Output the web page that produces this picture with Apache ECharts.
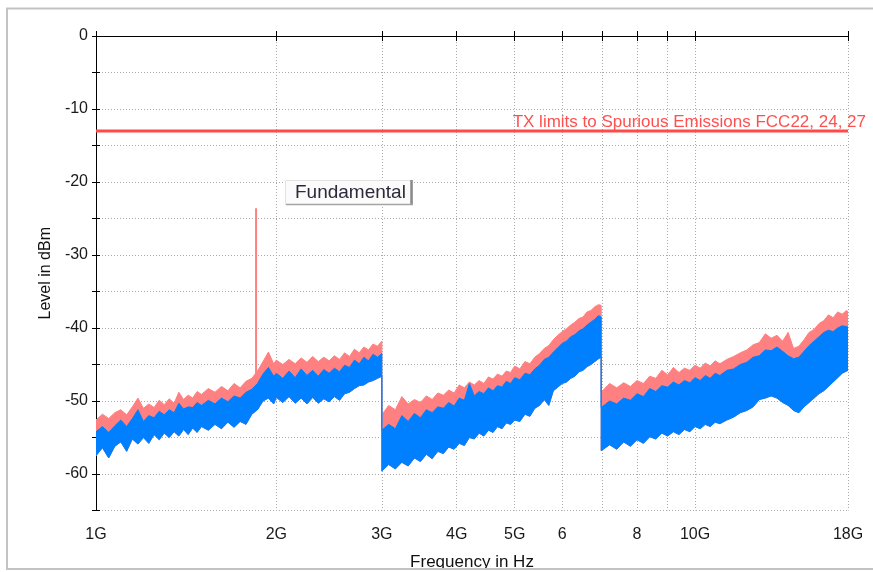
<!DOCTYPE html>
<html><head><meta charset="utf-8">
<script src="https://cdn.jsdelivr.net/npm/echarts@6/dist/echarts.min.js"></script>
<style>html,body{margin:0;padding:0;background:#fff}#c{width:873px;height:572px}</style>
</head><body><div id="c"></div>
<script>
// ---- data (frequency in GHz, level in dBm) ----
const seg1Freq = [1.000,1.025,1.050,1.075,1.100,1.125,1.150,1.175,1.200,1.225,1.250,1.275,1.300,1.325,1.350,1.375,1.400,1.425,1.450,1.475,1.50,1.54,1.58,1.62,1.66,1.70,1.74,1.78,1.82,1.86,1.90,1.94,1.98,2.00,2.05,2.10,2.15,2.20,2.25,2.30,2.35,2.40,2.45,2.50,2.55,2.60,2.65,2.70,2.75,2.80,2.85,2.90,2.95,3.00];
const seg1Peak = [-52.6,-51.8,-52.4,-51.6,-51.2,-51.9,-50.8,-49.6,-51.0,-50.4,-50.9,-49.9,-50.5,-49.7,-50.3,-48.8,-49.8,-49.2,-49.6,-48.7,-49.1,-48.3,-48.8,-48.0,-48.6,-47.6,-48.2,-47.3,-46.9,-45.9,-44.6,-43.3,-44.9,-44.4,-45.0,-44.3,-44.9,-44.1,-44.7,-43.9,-44.6,-44.0,-44.5,-43.8,-44.3,-43.4,-43.9,-42.9,-43.4,-42.6,-43.0,-42.2,-42.5,-41.8];
const seg1AvgHigh = [-54.2,-53.5,-54.3,-53.4,-52.6,-53.5,-52.4,-51.2,-52.8,-52.0,-52.3,-51.4,-51.9,-51.2,-51.6,-50.3,-51.1,-50.8,-50.9,-50.2,-50.6,-49.9,-50.4,-49.6,-50.1,-49.3,-49.6,-48.8,-48.4,-47.6,-46.3,-45.4,-46.6,-46.2,-46.9,-45.9,-46.8,-45.6,-46.5,-45.8,-46.6,-45.7,-46.2,-45.5,-46.0,-45.1,-45.4,-44.4,-44.9,-44.0,-44.5,-43.6,-44.0,-43.5];
const seg1AvgLow = [-57.5,-56.4,-57.8,-56.2,-55.6,-56.9,-55.2,-55.9,-55.0,-55.8,-54.6,-55.3,-54.4,-55.0,-54.2,-54.8,-53.9,-54.6,-53.7,-54.3,-53.5,-54.0,-53.2,-53.8,-52.9,-53.6,-52.8,-53.2,-51.8,-51.2,-50.0,-49.6,-50.4,-49.5,-50.2,-49.4,-50.3,-49.6,-50.4,-49.5,-50.3,-49.7,-50.1,-49.4,-49.9,-49.0,-48.8,-48.3,-47.9,-47.8,-47.4,-47.2,-46.9,-46.6];

const seg2Freq = [3.00,3.08,3.16,3.24,3.32,3.40,3.48,3.56,3.64,3.72,3.80,3.88,3.96,4.04,4.12,4.20,4.28,4.36,4.44,4.52,4.60,4.68,4.76,4.84,4.92,5.0,5.1,5.2,5.3,5.4,5.5,5.6,5.7,5.8,5.9,6.0,6.1,6.2,6.3,6.4,6.5,6.6,6.7,6.8,6.9,6.97];
const seg2Peak = [-51.9,-50.6,-51.2,-49.4,-50.4,-49.8,-50.2,-49.3,-49.8,-48.9,-49.2,-48.5,-48.9,-47.8,-48.2,-47.4,-47.8,-47.2,-47.6,-46.7,-47.0,-46.3,-46.6,-45.9,-46.1,-45.2,-45.6,-44.6,-44.9,-44.0,-43.5,-42.8,-42.4,-41.6,-41.0,-40.5,-40.1,-39.6,-39.2,-38.7,-38.5,-37.8,-37.6,-37.1,-36.8,-36.9];
const seg2AvgHigh = [-54.0,-53.2,-53.8,-52.0,-52.8,-51.7,-52.3,-51.2,-51.6,-50.8,-51.0,-50.2,-50.7,-49.6,-49.9,-47.6,-49.3,-48.7,-49.0,-48.2,-48.6,-47.9,-48.1,-47.3,-47.6,-46.8,-47.1,-46.2,-46.4,-45.6,-45.1,-44.3,-44.0,-43.3,-42.7,-42.1,-41.8,-41.2,-40.9,-40.4,-40.1,-39.6,-39.2,-38.8,-38.3,-38.5];
const seg2AvgLow = [-59.6,-58.7,-59.3,-58.4,-58.9,-57.8,-58.3,-57.3,-57.9,-56.9,-57.2,-56.3,-56.6,-55.8,-56.1,-55.0,-55.2,-54.4,-54.8,-54.0,-54.3,-53.5,-53.8,-53.0,-53.2,-52.6,-52.8,-51.8,-52.1,-51.0,-50.6,-49.8,-50.6,-48.6,-48.1,-47.6,-47.4,-46.9,-46.6,-46.0,-45.8,-45.3,-45.0,-44.6,-44.2,-44.0];

const seg3Freq = [6.97,7.2,7.4,7.6,7.8,8.0,8.2,8.4,8.6,8.8,9.0,9.2,9.4,9.6,9.8,10.0,10.2,10.4,10.6,10.8,11.0,11.3,11.6,11.9,12.2,12.5,12.8,13.1,13.4,13.7,14.0,14.3,14.6,14.9,15.2,15.5,15.8,16.1,16.4,16.7,17.0,17.3,17.6,17.9,18.0];
const seg3Peak = [-48.8,-47.6,-48.2,-47.5,-48.0,-47.2,-47.6,-46.6,-46.9,-45.8,-46.4,-45.4,-46.1,-45.5,-45.8,-45.1,-45.5,-44.8,-45.2,-44.5,-44.9,-44.3,-43.9,-43.4,-43.0,-42.3,-42.0,-40.8,-41.4,-41.0,-41.8,-40.6,-42.8,-42.5,-41.6,-40.6,-40.2,-39.4,-39.0,-38.2,-38.6,-37.8,-38.1,-37.6,-37.8];
const seg3AvgHigh = [-50.9,-50.0,-50.4,-49.6,-49.9,-49.0,-49.4,-48.3,-48.7,-47.9,-48.1,-47.4,-47.8,-47.2,-47.5,-46.8,-47.2,-46.5,-46.9,-46.2,-46.5,-45.8,-45.6,-45.0,-44.7,-44.0,-43.8,-43.0,-43.1,-42.6,-43.2,-43.8,-44.2,-44.0,-43.2,-42.4,-41.8,-41.2,-40.6,-40.3,-40.5,-40.0,-39.7,-39.8,-39.9];
const seg3AvgLow = [-56.8,-56.0,-56.6,-55.6,-56.2,-55.3,-55.8,-54.9,-55.2,-54.4,-54.8,-54.2,-54.6,-53.9,-54.2,-53.5,-53.8,-53.2,-53.5,-52.9,-53.1,-52.6,-52.2,-51.6,-51.3,-50.8,-49.8,-49.6,-49.3,-49.6,-50.2,-50.6,-51.3,-51.6,-50.8,-50.2,-49.6,-49.0,-48.6,-48.0,-47.4,-46.8,-46.2,-45.9,-45.8];

const fundamentalFreq = [1.85, 1.85];
const fundamentalLevel = [-47.0, -23.6];
const limitFreq = [1, 18];
const limitLevel = [-13, -13];
const limitText = 'TX limits to Spurious Emissions FCC22, 24, 27';
const markerText = 'Fundamental';

const tickFreqs = [1,2,3,4,5,6,7,8,9,10,18];
const labelFreqs = [1,2,3,4,5,6,8,10,18];
const labelTexts = ['1G','2G','3G','4G','5G','6','8','10G','18G'];
const yMin = -65, yMax = 0, yStep = 5;

// ---- build ----
const FONT = 'Liberation Sans, Arial, sans-serif';
const allFreq = seg1Freq.concat(seg2Freq, seg3Freq);
const allPeak = seg1Peak.concat(seg2Peak, seg3Peak);
const allHigh = seg1AvgHigh.concat(seg2AvgHigh, seg3AvgHigh);
const allLow = seg1AvgLow.concat(seg2AvgLow, seg3AvgLow);
const lg = f => Math.log10(f);

function bandSeries(name, freqs, top, bottom, color, z) {
  const data = freqs.map((f, i) => [lg(f), top[i], bottom[i]]);
  return {
    name, type: 'custom', z, silent: true, clip: true,
    xAxisIndex: 0, yAxisIndex: 0,
    data, encode: { x: 0, y: [1, 2] },
    renderItem(params, api) {
      if (params.dataIndex !== 0) return null;
      const pts = [];
      for (let i = 0; i < data.length; i++) pts.push(api.coord([data[i][0], data[i][1]]));
      for (let i = data.length - 1; i >= 0; i--) pts.push(api.coord([data[i][0], data[i][2]]));
      return { type: 'polygon', shape: { points: pts }, style: { fill: color, stroke: color, lineWidth: 1 } };
    }
  };
}

const labelFormatter = v => {
  const i = labelFreqs.findIndex(f => Math.abs(lg(f) - v) < 1e-6);
  return i >= 0 ? labelTexts[i] : '';
};

const xBase = { type: 'value', min: 0, max: lg(18), position: 'bottom' };
const yBase = { type: 'value', min: yMin, max: yMax, interval: yStep, position: 'left' };

const option = {
  animation: false,
  backgroundColor: '#ffffff',
  grid: { left: 96, right: 25, top: 36, bottom: 61.5, containLabel: false, outerBoundsMode: 'none' },
  xAxis: [
    Object.assign({}, xBase, {
      name: 'Frequency in Hz', nameLocation: 'middle', nameGap: 43,
      nameTextStyle: { fontSize: 17, color: '#111', fontFamily: FONT },
      axisLine: { show: true, lineStyle: { color: '#000', width: 1 } },
      axisTick: { show: true, length: 5, customValues: tickFreqs.map(lg), lineStyle: { color: '#000' } },
      axisLabel: { show: true, customValues: labelFreqs.map(lg), formatter: labelFormatter, margin: 16,
        fontSize: 16, color: '#1a1a1a', fontFamily: FONT, hideOverlap: false },
      splitLine: { show: true, lineStyle: { color: '#aaaaaa', type: [1, 2], width: 1 } }
    }),
    Object.assign({}, xBase, {
      axisLine: { show: false },
      axisTick: { show: true, inside: true, length: 5, customValues: tickFreqs.map(lg), lineStyle: { color: '#000' } },
      axisLabel: { show: false }, splitLine: { show: false }
    })
  ],
  yAxis: [
    Object.assign({}, yBase, {
      name: 'Level in dBm', nameLocation: 'middle', nameGap: 40, nameRotate: 90,
      nameTextStyle: { fontSize: 16, color: '#111', fontFamily: FONT },
      axisLine: { show: true, lineStyle: { color: '#000', width: 1 } },
      axisTick: { show: true, length: 4, lineStyle: { color: '#000' } },
      axisLabel: { show: true, margin: 8, fontSize: 16, color: '#1a1a1a', fontFamily: FONT,
        formatter: v => (v % 10 === 0 && v !== yMin) ? String(v) : '' },
      splitLine: { show: true, lineStyle: { color: '#aaaaaa', type: [1, 2], width: 1 } }
    }),
    Object.assign({}, yBase, {
      axisLine: { show: false },
      axisTick: { show: true, inside: true, length: 4, lineStyle: { color: '#000' } },
      axisLabel: { show: false }, splitLine: { show: false }
    })
  ],
  series: [
    bandSeries('Peak', allFreq, allPeak, allLow, '#ff8080', 2),
    bandSeries('Average', allFreq, allHigh, allLow, '#0080ff', 3),
    {
      name: 'Fundamental', type: 'line', z: 4, silent: true, symbol: 'none',
      data: fundamentalFreq.map((f, i) => [lg(f), fundamentalLevel[i]]),
      lineStyle: { color: '#ff8080', width: 2 }
    },
    {
      name: 'Limit', type: 'line', z: 5, silent: true, symbol: 'none',
      data: limitFreq.map((f, i) => [lg(f), limitLevel[i]]),
      lineStyle: { color: '#ff4a4a', width: 3 }
    }
  ],
  graphic: [
    { type: 'rect', z: 100, silent: true, shape: { x: 7, y: 8.5, width: 900, height: 560.5 },
      style: { fill: 'none', stroke: '#c3c3c3', lineWidth: 2 } },
    { type: 'text', z: 50, silent: true, style: { text: limitText, x: 866, y: 130.5, align: 'right', verticalAlign: 'bottom',
      font: '17px ' + FONT, fill: '#ff5050' } },
    { type: 'rect', z: 50, silent: true, shape: { x: 285.5, y: 180.5, width: 127, height: 24 },
      style: { fill: '#fbfbfb', stroke: '#e2e2e2', lineWidth: 1 } },
    { type: 'line', z: 51, silent: true, shape: { x1: 411.5, y1: 180, x2: 411.5, y2: 205 },
      style: { stroke: '#8a8a8a', lineWidth: 2.5 } },
    { type: 'line', z: 51, silent: true, shape: { x1: 286, y1: 204.5, x2: 413, y2: 204.5 },
      style: { stroke: '#a5a5a5', lineWidth: 1.5 } },
    { type: 'text', z: 52, silent: true, style: { text: markerText, x: 295, y: 193, verticalAlign: 'middle',
      font: '19px ' + FONT, fill: '#2a2a3a' } }
  ]
};

const chart = echarts.init(document.getElementById('c'), null, { renderer: 'canvas' });
chart.setOption(option);
</script>
</body></html>
